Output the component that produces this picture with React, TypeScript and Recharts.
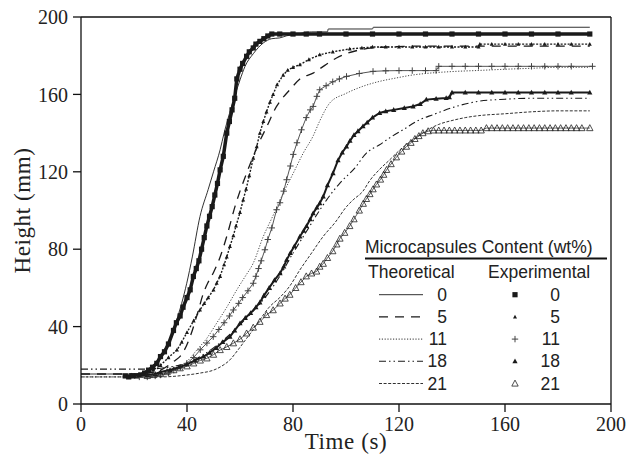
import React from 'react';
import { ComposedChart, Line, Scatter, XAxis, YAxis, ReferenceLine } from 'recharts';

type Pt = [number, number];

// time (s), height (mm)
const theo0: Pt[] = [
  [0, 15.5], [10, 15.5], [20, 15.5], [24, 16.5], [27, 19.5], [30, 25], [33, 32], [36, 43],
  [39.9, 62.4], [42, 76], [44.9, 96.9], [48, 110.9], [50, 120], [52.5, 131.4], [54, 140],
  [56, 150], [58, 159], [60, 167.5], [61.9, 174.5], [65, 181], [68.8, 186.6], [72, 188.8],
  [75, 189.2], [77.6, 190.3], [82, 191.3], [87, 192.3], [93, 192.3], [93.3, 193.8],
  [110, 193.8], [110.3, 194.7], [192, 194.7],
];
const theo5: Pt[] = [
  [0, 15.5], [10, 15.5], [20, 15.5], [25, 16], [30, 17.5], [35, 22], [38.3, 26.2], [41.5, 36],
  [44, 47], [46.2, 57.3], [48, 63], [50, 68], [52.5, 76], [55, 86.6], [58.1, 102], [60, 110],
  [62.5, 119.3], [65, 128], [67.5, 136], [70, 143], [73.8, 153.8], [76, 158], [78.8, 162.4],
  [82.6, 168], [87.6, 171], [92, 175], [96.4, 178.8], [100, 181], [105.2, 183], [110, 184],
  [115, 184.5], [130, 185], [150, 185], [170, 185], [192, 185],
];
const theo11: Pt[] = [
  [0, 14], [10, 14], [20, 14], [25, 14], [30, 15], [35, 17.5], [40, 22], [43.7, 27.9],
  [47.5, 34], [51.2, 41.8], [55, 50], [58.8, 59], [62, 66], [65, 72.8], [68.8, 86.6], [72, 96],
  [76, 108], [80.1, 119.3], [84, 130], [87.6, 138.5], [90, 146], [93.9, 155.6], [100, 160.5],
  [106.4, 164.2], [112, 166.5], [119, 168.5], [125, 170], [131.6, 171], [140, 171.8],
  [150.4, 172.4], [160, 173], [170, 173.5], [180, 174], [192, 174],
];
const theo18: Pt[] = [
  [0, 18], [10, 18], [20, 18], [25, 18], [30, 18.5], [35, 19.5], [40, 21], [45, 24.5], [50, 29],
  [55, 34.5], [60, 41], [65, 48], [70, 56], [75, 66], [80, 78], [85, 89], [90, 100],
  [92.7, 105.5], [97.7, 114.2], [103.3, 121.9], [107.7, 129.7], [112.7, 134], [117, 138],
  [121.5, 141.7], [127.8, 146.9], [132.8, 149.5], [141.6, 153.8], [150.4, 156.5], [160, 157.5],
  [170, 158], [180, 158], [192, 158],
];
const theo21: Pt[] = [
  [0, 14], [10, 14], [20, 14], [30, 14], [40, 15], [45, 16], [50, 17.5], [53, 19.5], [56.2, 22.8],
  [59, 27.5], [62, 33], [65, 38.5], [67.5, 43.5], [71, 50], [75, 55], [78.8, 61], [82.6, 69.3],
  [87, 78], [91.4, 86.6], [96, 94], [100.2, 102], [102.7, 105.5], [106.4, 110], [109, 115.5],
  [112.5, 121], [116.5, 126.2], [120.5, 131.5], [125.3, 136.6], [130, 141], [135, 144.5],
  [140, 146.5], [145, 148], [150, 149], [160, 150], [170, 151], [180, 151.5], [192, 151.5],
];

const exp0: Pt[] = [
  [16.7, 14.5], [18, 14], [19.5, 14.5], [21, 14.5], [22.5, 15], [24, 16], [25.5, 17.5], [27, 19],
  [28.6, 21], [30, 24.5], [31.5, 27], [33, 31], [34.9, 38], [36, 42], [37.4, 45.5], [38.5, 50],
  [40, 55], [41.2, 59], [42.4, 65.9], [43.5, 70], [44.5, 74], [45.5, 80], [46.5, 86], [47.5, 92],
  [48.5, 97], [49.5, 102], [50.5, 108], [51.5, 114], [52.5, 121], [53.7, 128], [55, 140],
  [56, 146], [57, 152], [58, 158], [58.8, 168], [60, 173], [61, 176], [62.5, 179.7], [63.5, 182],
  [65, 184], [66, 186], [67.5, 187.4], [69, 188.8], [70.5, 190.2], [72, 191.2], [75, 191.2],
  [80, 191.2], [85, 191.2], [90, 191.2], [100, 191.2], [110, 191.2], [120, 191.2], [130, 191.2],
  [140, 191.2], [150, 191.2], [160, 191.2], [170, 191.2], [180, 191.2], [192, 191.2],
];
const exp5: Pt[] = [
  [19, 15], [22, 15], [25, 15.5], [27.3, 17.6], [30, 20], [33, 24], [36.2, 27.9], [38, 32],
  [40, 37], [42.5, 43], [44.9, 48.6], [46.5, 52], [48, 55], [50, 59], [51.2, 62.4], [52.5, 66],
  [54, 72], [55, 76], [56.2, 81.4], [57.5, 87], [58.5, 92], [60, 99], [61.2, 105.5], [62.3, 111],
  [63.5, 118], [65, 127], [66.3, 133], [67.5, 140], [68.8, 146], [70, 151], [71.3, 156],
  [72.5, 160], [74, 165], [76.3, 170], [78, 172.5], [80, 174], [82.6, 175.4], [86, 178],
  [90.1, 180.5], [95, 182], [101.4, 183.5], [106, 184], [110, 184.5], [115, 184.5], [120, 184.5],
  [125, 184.5], [130, 184.5], [135, 184.5], [140, 184.5], [145, 184.5], [150, 184.5],
  [150.5, 186], [155, 186], [160, 186], [165, 186], [170, 186], [175, 186], [180, 186],
  [185, 186], [192, 186],
];
const exp11: Pt[] = [
  [22, 14], [25, 14], [28, 14.5], [30, 15], [33, 16], [35, 17.5], [37.5, 19], [39.9, 21],
  [42.5, 24], [45, 28], [47.5, 31.5], [49.9, 34.8], [52, 38.5], [54, 42], [56, 45.5],
  [57.5, 48.6], [59.5, 52], [61, 55], [63, 58.5], [65, 62.4], [66, 66], [67, 70], [68, 74],
  [69.4, 79.7], [70.5, 85], [72, 91], [73.8, 100.4], [75.1, 104], [76.5, 110], [77.6, 115.9],
  [79, 123], [80.1, 129], [81.5, 135], [83.2, 141.7], [85, 148], [86.5, 152], [87.6, 153.8],
  [89, 159], [90.1, 162.4], [92.5, 164.5], [95, 166.5], [97.5, 168], [100.2, 169.3],
  [105, 170.8], [110.2, 171.9], [115, 172.2], [120, 172.3], [125, 172.3], [130, 172.3],
  [134, 172.3], [135, 174.5], [140, 174.5], [145, 174.5], [150, 174.5], [155, 174.5],
  [160, 174.5], [165, 174.5], [170, 174.5], [175, 174.5], [180, 174.5], [185, 174.5],
  [193, 174.5],
];
const exp18: Pt[] = [
  [22, 15], [25, 15], [28, 15.5], [30, 16.5], [33.6, 17.6], [37, 19], [40, 20.5], [43, 22.5],
  [46.2, 24.5], [48.5, 26.5], [51, 29], [53.5, 32], [56.2, 34.8], [58, 38], [60, 41.7],
  [62, 44.5], [64, 47], [66, 50], [67.5, 52.5], [69, 56], [71, 60], [73, 64], [75.1, 67.6],
  [76.5, 71], [77.6, 74.5], [79, 78], [80.5, 81.5], [82.6, 86.6], [84, 89.5], [85.1, 92],
  [86.5, 95.5], [87.6, 98.6], [89, 101.5], [90.1, 103.8], [91.4, 107.2], [93, 113], [95.1, 119.3],
  [97, 126], [98.6, 130], [100.2, 133.1], [101.5, 136], [103, 139], [104.5, 141], [106.4, 143.5],
  [108, 145.5], [110, 148], [112.7, 150.4], [115, 151.3], [118, 152], [122, 153], [125.3, 153.8],
  [128, 155], [130.3, 157.3], [134, 157.7], [137.8, 158.1], [139, 158.5], [140, 161], [145, 161],
  [150, 161], [155, 161], [160, 161], [165, 161], [170, 161], [175, 161], [180, 161], [185, 161],
  [192, 161],
];
const exp21: Pt[] = [
  [25, 14.5], [27.3, 15], [30, 15.5], [32.5, 16.5], [35, 17.5], [37.4, 18.5], [40, 19.5],
  [42.5, 21], [45, 22.5], [47.5, 23.6], [50, 25.5], [52.5, 27.9], [55, 29.5], [57.5, 31.4],
  [60, 33.5], [62.5, 36.5], [65, 39.5], [67.5, 42.5], [70, 46], [72.5, 48.5], [75.1, 52],
  [77, 54.5], [78.8, 56.5], [81, 60], [83, 63], [85, 66], [87, 67.5], [88.9, 68.5], [90.1, 71],
  [91.4, 72.5], [93, 75.5], [95, 79], [96.5, 82.5], [97.7, 85.5], [99.5, 88.5], [101.4, 92],
  [103, 95.5], [105, 100], [106.5, 103.5], [107.7, 106], [109, 108.5], [110.2, 111],
  [111.5, 113.5], [113, 116], [114.2, 118.5], [115.3, 121], [117, 124], [119, 127.5],
  [121, 130.5], [122.8, 133], [124.5, 135], [126, 137], [127.5, 138.5], [129, 140], [131, 141],
  [133, 141.4], [135, 141.4], [137, 141.4], [139, 141.4], [141, 141.4], [143, 141.4],
  [145, 141.4], [147, 141.4], [149, 141.4], [151, 141.4], [153, 142.6], [155, 142.6],
  [157, 142.6], [159, 142.6], [161, 142.6], [163, 142.6], [165, 142.6], [167, 142.6],
  [169, 142.6], [171, 142.6], [173, 142.6], [175, 142.6], [177, 142.6], [179, 142.6],
  [181, 142.6], [183, 142.6], [185, 142.6], [187, 142.6], [189, 142.6], [192, 142.6],
];

const axisTicks = [0, 40, 80, 120, 160, 200];
const contents = ['0', '5', '11', '18', '21'];

const rows = (pts: Pt[]) => pts.map(([t, h]) => ({ t, h }));

const INK = '#1a1a1a';
const dashes = ['', '9 7', '1.2 1.6', '7 3 1.5 3 1.5 3', '3 1.6'];
const widths = [0.9, 1.3, 0.9, 1.1, 0.9];

const square = (cx: number, cy: number) => (
  <rect x={cx - 2.6} y={cy - 2.6} width={5.2} height={5.2} fill={INK} />
);
const smallTri = (cx: number, cy: number) => (
  <path d={`M${cx},${cy - 2.2}L${cx + 2},${cy + 1.6}L${cx - 2},${cy + 1.6}Z`} fill={INK} />
);
const plus = (cx: number, cy: number) => (
  <path d={`M${cx - 3.2},${cy}H${cx + 3.2}M${cx},${cy - 3.2}V${cy + 3.2}`} stroke="#444" strokeWidth={1} />
);
const tri = (cx: number, cy: number) => (
  <path d={`M${cx},${cy - 2.8}L${cx + 2.6},${cy + 2}L${cx - 2.6},${cy + 2}Z`} fill={INK} />
);
const openTri = (cx: number, cy: number) => (
  <path d={`M${cx},${cy - 3.4}L${cx + 3.2},${cy + 2.6}L${cx - 3.2},${cy + 2.6}Z`} fill="none" stroke="#222" strokeWidth={0.8} />
);
const markers = [square, smallTri, plus, tri, openTri];
const shapeOf = (i: number) => (p: any) => <g>{markers[i](p.cx, p.cy)}</g>;

const theoSeries = [theo0, theo5, theo11, theo18, theo21];
const expSeries = [exp0, exp5, exp11, exp18, exp21];
const expLines = [
  { stroke: INK, strokeWidth: 3.5 },
  { stroke: INK, strokeWidth: 1.4, strokeDasharray: '2 1.5' },
  { stroke: '#555', strokeWidth: 1 },
  { stroke: INK, strokeWidth: 2 },
  { stroke: '#333', strokeWidth: 0.8 },
];

const tickStyle = { fontFamily: 'Liberation Serif', fontSize: 20, fill: '#222' };
const titleStyle = { fontFamily: 'Liberation Serif', fontSize: 23, fill: '#222', letterSpacing: 0.6 };
const legendFont = { fontFamily: 'Liberation Sans', fontSize: 17.5, fill: '#222' };
const rowBase = [300.7, 322.9, 345.1, 367.3, 389.5];

const LegendBox = () => (
  <svg width={629} height={461} style={{ position: 'absolute', left: 0, top: 0, pointerEvents: 'none' }}>
    <text x={365} y={253} {...legendFont}>Microcapsules Content (wt%)</text>
    <line x1={365} x2={607} y1={258.5} y2={258.5} stroke="#111" strokeWidth={2} />
    <text x={368} y={278} {...legendFont}>Theoretical</text>
    <text x={488} y={278} {...legendFont}>Experimental</text>
    {contents.map((c, i) => (
      <g key={c}>
        <line x1={379} x2={423} y1={rowBase[i] - 6} y2={rowBase[i] - 6} stroke={INK}
          strokeWidth={widths[i]} strokeDasharray={dashes[i] || undefined} />
        <text x={447} y={rowBase[i]} textAnchor="end" {...legendFont}>{c}</text>
        {markers[i](515, rowBase[i] - 6)}
        <text x={560} y={rowBase[i]} textAnchor="end" {...legendFont}>{c}</text>
      </g>
    ))}
  </svg>
);

export default function App() {
  return (
    <div style={{ position: 'absolute', left: 0, top: 0, width: 629, height: 461, background: '#fff' }}>
      <ComposedChart width={629} height={461} margin={{ top: 17, right: 18, left: 0, bottom: 27 }}>
        <XAxis
          type="number"
          dataKey="t"
          domain={[0, 200]}
          ticks={axisTicks}
          tickSize={8}
          tickMargin={5}
          tick={tickStyle}
          height={30}
          stroke="#111"
          strokeWidth={1.3}
          allowDataOverflow
          label={{ value: 'Time (s)', position: 'bottom', offset: -1, style: titleStyle }}
        />
        <YAxis
          type="number"
          dataKey="h"
          domain={[0, 200]}
          ticks={axisTicks}
          tickSize={8}
          tickMargin={5}
          tick={tickStyle}
          width={81}
          stroke="#111"
          strokeWidth={1.3}
          allowDataOverflow
          label={{ value: 'Height (mm)', angle: -90, position: 'insideLeft', offset: 22, style: { ...titleStyle, textAnchor: 'middle' } }}
        />
        <ReferenceLine y={200} stroke="#111" strokeWidth={1.3} />
        <ReferenceLine x={200} stroke="#111" strokeWidth={1.3} />
        {theoSeries.map((s, i) => (
          <Line
            key={'theo' + contents[i]}
            data={rows(s)}
            dataKey="h"
            type="monotone"
            stroke={i === 2 ? '#333' : INK}
            strokeWidth={widths[i]}
            strokeDasharray={dashes[i] || undefined}
            dot={false}
            activeDot={false}
            isAnimationActive={false}
          />
        ))}
        {expSeries.map((s, i) => (
          <Scatter
            key={'exp' + contents[i]}
            data={rows(s)}
            dataKey="h"
            line={expLines[i]}
            shape={shapeOf(i)}
            isAnimationActive={false}
          />
        ))}
      </ComposedChart>
      <LegendBox />
    </div>
  );
}
